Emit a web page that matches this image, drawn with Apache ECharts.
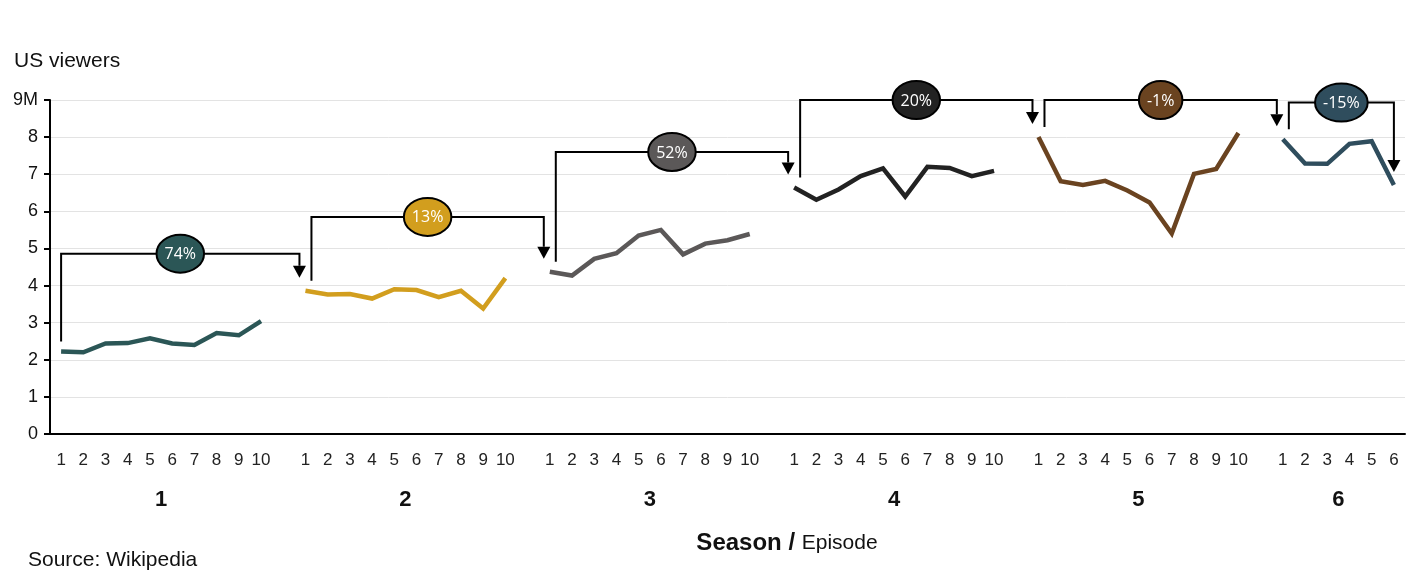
<!DOCTYPE html>
<html>
<head>
<meta charset="utf-8">
<script src="https://cdn.jsdelivr.net/npm/echarts@6/dist/echarts.min.js"></script>
<style>
html,body{margin:0;padding:0;background:#fff;}
#chart{width:1422px;height:583px;}
</style>
</head>
<body>
<div id="chart"></div>
<script>
// ---- data ----
const seasonNames = ['1', '2', '3', '4', '5', '6'];
const season1 = [2.22, 2.20, 2.44, 2.45, 2.58, 2.44, 2.40, 2.72, 2.66, 3.04];
const season2 = [3.86, 3.76, 3.77, 3.65, 3.90, 3.88, 3.69, 3.86, 3.38, 4.20];
const season3 = [4.37, 4.27, 4.72, 4.87, 5.35, 5.50, 4.84, 5.13, 5.22, 5.39];
const season4 = [6.64, 6.31, 6.59, 6.95, 7.16, 6.40, 7.20, 7.17, 6.95, 7.09];
const season5 = [8.00, 6.81, 6.71, 6.82, 6.56, 6.24, 5.40, 7.01, 7.14, 8.11];
const season6 = [7.94, 7.29, 7.28, 7.82, 7.89, 6.71];
const seasonColors = ['#2b5656', '#d29e1e', '#5b5858', '#222222', '#6a4320', '#2f4d5d'];
// change labels (from first episode of a season to the next marked point)
const changeLabels = ['74%', '13%', '52%', '20%', '-1%', '-15%'];
// bracket heights in millions of viewers
const bracketLevels = [4.86, 5.85, 7.60, 9.0, 9.0, 8.93];

const seasons = [season1, season2, season3, season4, season5, season6];

// ---- build category axis (10 episodes + gap per season) ----
const categories = [];
const seasonStart = [];
seasons.forEach((s, i) => {
  seasonStart.push(categories.length);
  s.forEach((v, j) => categories.push(String(j + 1)));
  if (i < seasons.length - 1) categories.push('');
});
const N = categories.length;

const lineSeries = seasons.map((s, i) => {
  const d = new Array(N).fill(null);
  s.forEach((v, j) => { d[seasonStart[i] + j] = v; });
  return {
    type: 'line', data: d, symbol: 'none', connectNulls: false,
    lineStyle: { color: seasonColors[i], width: 4.5, join: 'miter' },
    itemStyle: { color: seasonColors[i] }, z: 3, animation: false
  };
});

// brackets: from episode 1 of season i to episode 1 of season i+1 (last: to final episode of season 6)
const bracketData = seasons.map((s, i) => {
  const x1 = seasonStart[i], y1 = s[0];
  let x2, y2;
  if (i < seasons.length - 1) { x2 = seasonStart[i + 1]; y2 = seasons[i + 1][0]; }
  else { x2 = seasonStart[i] + s.length - 1; y2 = s[s.length - 1]; }
  return [x1, y1, x2, y2, bracketLevels[i], i];
});

const LABEL_FONT = '16px "Open Sans"';
const measureCtx = document.createElement('canvas').getContext('2d');
measureCtx.font = LABEL_FONT;

const seasonCenters = seasons.map((s, i) => seasonStart[i] + (s.length - 1) / 2);
const FONT = '"Liberation Sans", Arial, sans-serif';

const chart = echarts.init(document.getElementById('chart'), null, { renderer: 'canvas' });
chart.setOption({
  animation: false,
  backgroundColor: '#ffffff',
  textStyle: { fontFamily: FONT },
  grid: { left: 50, right: 17, top: 100, bottom: 149, containLabel: false },
  xAxis: [
    {
      type: 'category', data: categories, boundaryGap: true,
      axisLine: { show: true, onZero: false, lineStyle: { color: '#000', width: 2 } },
      axisTick: { show: false },
      axisLabel: { interval: 0, fontSize: 17, color: '#222', margin: 18 },
      splitLine: { show: false }
    },
    {
      type: 'value', min: -0.5, max: N - 0.5, position: 'bottom', offset: 47,
      axisLine: { show: false }, axisTick: { show: false }, splitLine: { show: false },
      axisLabel: {
        customValues: seasonCenters, fontSize: 22, fontWeight: 'bold', color: '#111', margin: 8,
        formatter: function (v) {
          const k = seasonCenters.findIndex(c => Math.abs(c - v) < 1e-6);
          return k >= 0 ? seasonNames[k] : '';
        }
      }
    }
  ],
  yAxis: {
    type: 'value', min: 0, max: 9, interval: 1,
    axisLine: { show: true, onZero: false, lineStyle: { color: '#000', width: 2 } },
    axisTick: { show: true, length: 6, lineStyle: { color: '#000', width: 2 } },
    axisLabel: { fontSize: 18, color: '#111', margin: 12, formatter: v => v === 9 ? '9M' : String(v) },
    splitLine: { show: true, lineStyle: { color: '#e3e3e3', width: 1 } }
  },
  series: lineSeries.concat([{
    type: 'custom', xAxisIndex: 0, yAxisIndex: 0, z: 5, animation: false,
    data: bracketData, silent: true,
    renderItem: function (params, api) {
      const i = api.value(5);
      const p1 = api.coord([api.value(0), api.value(1)]);
      const p2 = api.coord([api.value(2), api.value(3)]);
      const lv = api.coord([api.value(0), api.value(4)])[1];
      const last = i === seasons.length - 1;
      const xs = p1[0] + (i === 0 ? 0 : 6);
      const xe = p2[0] + (last ? 0 : -6);
      const ys = p1[1] - 10;
      const tipY = p2[1] - 13;
      const baseY = tipY - 12;
      const label = changeLabels[i];
      const tw = measureCtx.measureText(label).width;
      const rx = tw / 2 + 8, ry = 19;
      const cx = (xs + xe) / 2;
      return {
        type: 'group',
        children: [
          { type: 'polyline', shape: { points: [[xs, ys], [xs, lv], [xe, lv], [xe, baseY]] },
            style: { stroke: '#000', lineWidth: 2, fill: null } },
          { type: 'polygon', shape: { points: [[xe - 6.5, baseY], [xe + 6.5, baseY], [xe, tipY]] },
            style: { fill: '#000' } },
          { type: 'ellipse', shape: { cx: cx, cy: lv, rx: rx, ry: ry },
            style: { fill: seasonColors[i], stroke: '#000', lineWidth: 2 } },
          { type: 'text', x: cx, y: lv + 1,
            style: { text: label, fill: '#fff', font: LABEL_FONT, align: 'center', verticalAlign: 'middle' } }
        ]
      };
    }
  }]),
  graphic: [
    { type: 'text', left: 14, top: 51, style: { text: 'US viewers', fontSize: 21, fill: '#111', fontFamily: FONT } },
    { type: 'text', left: 28, top: 550, style: { text: 'Source: Wikipedia', fontSize: 21, fill: '#111', fontFamily: FONT } },
    { type: 'text', x: 787, y: 543,
      style: {
        text: '{b|Season /}  {n|Episode}', align: 'center', verticalAlign: 'middle',
        rich: {
          b: { fontSize: 24, fontWeight: 'bold', fill: '#111', fontFamily: FONT },
          n: { fontSize: 21, fill: '#111', fontFamily: FONT }
        }
      } }
  ]
});
</script>
</body>
</html>
